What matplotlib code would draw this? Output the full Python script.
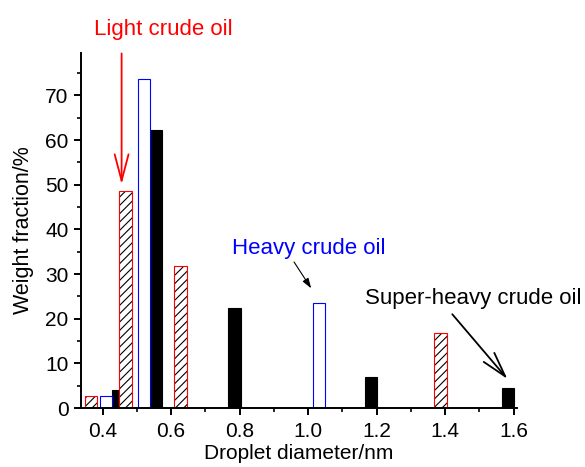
import matplotlib
matplotlib.use("Agg")
import matplotlib.pyplot as plt
from matplotlib.ticker import MultipleLocator

plt.rcParams['font.family'] = ['Liberation Sans', 'DejaVu Sans']
plt.rcParams['hatch.linewidth'] = 0.8

# data (droplet diameter in nm, weight fraction in %)
light_x = [0.366, 0.467, 0.627, 1.387]
light_y = [2.7, 48.6, 31.7, 16.9]

heavy_x = [0.410, 0.520, 1.031]
heavy_y = [2.7, 73.6, 23.6]

super_x = [0.444, 0.554, 0.785, 1.184, 1.584]
super_y = [4.0, 62.3, 22.3, 7.0, 4.4]

bar_w = 0.036

fig = plt.figure(figsize=(5.85, 4.67), dpi=100)
ax = fig.add_axes([0.1385, 0.1263, 0.7453, 0.7602])

# super-heavy: solid black
ax.bar(super_x, super_y, bar_w, color='black', edgecolor='black', linewidth=0.8)
# heavy: open blue
ax.bar(heavy_x, heavy_y, bar_w, facecolor='white', edgecolor='blue', linewidth=0.8)
# light: black hatching with red outline
ax.bar(light_x, light_y, bar_w, facecolor='white', edgecolor='black', hatch='////', linewidth=0)
ax.bar(light_x, light_y, bar_w, fill=False, edgecolor='red', linewidth=0.8)

ax.set_xlim(0.337, 1.61)
ax.set_ylim(0, 79.5)
ax.xaxis.set_major_locator(MultipleLocator(0.2))
ax.xaxis.set_minor_locator(MultipleLocator(0.1))
ax.yaxis.set_major_locator(MultipleLocator(10))
ax.yaxis.set_minor_locator(MultipleLocator(5))

ax.spines['top'].set_visible(False)
ax.spines['right'].set_visible(False)
for s in ['left', 'bottom']:
    ax.spines[s].set_linewidth(1.4)
ax.tick_params(which='major', direction='out', length=5, width=1.4, labelsize=15)
ax.tick_params(which='minor', direction='out', length=3, width=1.2)
ax.tick_params(axis='x', pad=5)
ax.tick_params(axis='y', pad=4)

ax.set_xlabel("Droplet diameter/nm", fontsize=15, labelpad=2)
ax.set_ylabel("Weight fraction/%", fontsize=15.5, labelpad=8)

# annotations
ax.text(0.577, 83.6, "Light crude oil", color='red', fontsize=16, ha='center', va='baseline', clip_on=False)
ax.annotate('', xy=(0.4555, 50.1), xytext=(0.4555, 79.4), annotation_clip=False,
            arrowprops=dict(arrowstyle='->,head_length=19,head_width=5', color='red', lw=1.3,
                            mutation_scale=1, shrinkA=0, shrinkB=0))

ax.text(1.001, 34.6, "Heavy crude oil", color='blue', fontsize=16, ha='center', va='baseline')
ax.annotate('', xy=(1.009, 26.8), xytext=(0.959, 32.7),
            arrowprops=dict(arrowstyle='-|>,head_length=6,head_width=2', color='black', lw=0.8,
                            mutation_scale=1, shrinkA=0, shrinkB=0))

ax.text(1.481, 23.4, "Super-heavy crude oil", color='black', fontsize=16, ha='center', va='baseline')
ax.annotate('', xy=(1.582, 6.5), xytext=(1.421, 21.0),
            arrowprops=dict(arrowstyle='->,head_length=18,head_width=5', color='black', lw=1.3,
                            mutation_scale=1, shrinkA=0, shrinkB=0))

fig.savefig("out.png", dpi=100)
